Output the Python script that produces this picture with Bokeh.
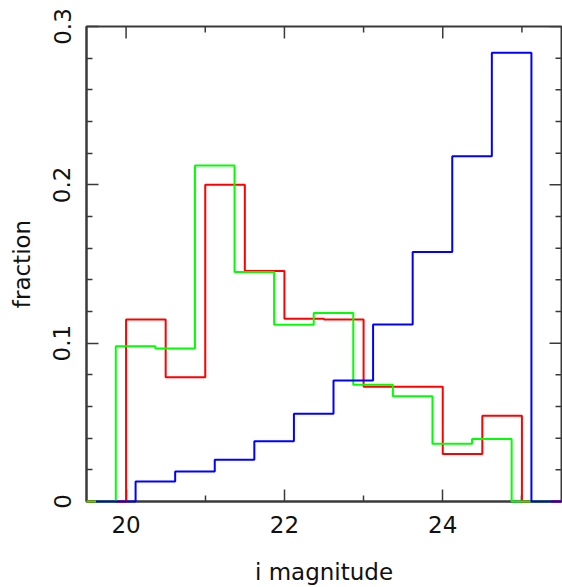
import math
from bokeh.plotting import figure
from bokeh.models import Range1d, FixedTicker
from bokeh.embed import file_html
from bokeh.resources import INLINE

# bin edges (including empty bins at both ends) and fractions
red_edges = [19.5, 20.0, 20.5, 21.0, 21.5, 22.0, 22.5, 23.0, 23.5, 24.0, 24.5, 25.0, 25.5]
red_values = [0.0, 0.115, 0.0785, 0.200, 0.1456, 0.1154, 0.115, 0.0724, 0.0724, 0.030, 0.0542, 0.0]

green_edges = [19.37, 19.87, 20.37, 20.87, 21.37, 21.87, 22.37, 22.87, 23.37, 23.87, 24.37, 24.87, 25.37]
green_values = [0.0, 0.098, 0.0966, 0.2122, 0.1449, 0.1116, 0.119, 0.0738, 0.0665, 0.0365, 0.0394, 0.0]

blue_edges = [19.62, 20.12, 20.62, 21.12, 21.62, 22.12, 22.62, 23.12, 23.62, 24.12, 24.62, 25.12, 25.62]
blue_values = [0.0, 0.0127, 0.019, 0.0264, 0.038, 0.0555, 0.0764, 0.1118, 0.1576, 0.218, 0.2835, 0.0]

x_major = [20, 22, 24]
x_minor = [19, 21, 23, 25]
y_major = [0.0, 0.1, 0.2, 0.3]
y_minor = [0.02, 0.04, 0.06, 0.08, 0.12, 0.14, 0.16, 0.18, 0.22, 0.24, 0.26, 0.28]
y_labels = {0.0: "0", 0.1: "0.1", 0.2: "0.2", 0.3: "0.3"}

X0, X1 = 19.5, 25.5
Y0, Y1 = 0.0, 0.3

FONT = "DejaVu Sans ExtraLight, DejaVu Sans"
AX = "#3a3a3a"
TXT = "#111111"

p = figure(width=562, height=587, output_backend="svg", toolbar_location=None,
           x_range=Range1d(X0, X1), y_range=Range1d(Y0, Y1),
           min_border_left=86, min_border_top=26, min_border_right=1, min_border_bottom=0,
           x_axis_label="i magnitude", y_axis_label="fraction")
p.grid.visible = False
p.outline_line_color = AX
p.outline_line_width = 2
p.background_fill_color = "white"
p.border_fill_color = "white"

# mirrored inward ticks on the top and right edges
p.ray(x=x_major, y=[Y1] * len(x_major), length=12, length_units="screen",
      angle=-math.pi / 2, line_color=AX, line_width=1.5)
p.ray(x=x_minor, y=[Y1] * len(x_minor), length=6, length_units="screen",
      angle=-math.pi / 2, line_color=AX, line_width=1.5)
p.ray(x=[X1] * len(y_major), y=y_major, length=12, length_units="screen",
      angle=math.pi, line_color=AX, line_width=1.5)
p.ray(x=[X1] * len(y_minor), y=y_minor, length=6, length_units="screen",
      angle=math.pi, line_color=AX, line_width=1.5)

for edges, vals, col in [(red_edges, red_values, "#ff0000"),
                         (green_edges, green_values, "#00ff00"),
                         (blue_edges, blue_values, "#0000ff")]:
    xs = [min(max(e, X0), X1) for e in edges]   # clip to the visible x range
    p.step(x=xs, y=vals + [0.0], mode="after", line_color=col, line_width=2,
           level="overlay")

for ax in list(p.xaxis) + list(p.yaxis):
    ax.axis_line_color = AX
    ax.axis_line_width = 2
    ax.major_tick_line_color = AX
    ax.minor_tick_line_color = AX
    ax.major_tick_line_width = 1.5
    ax.minor_tick_line_width = 1.5
    ax.major_tick_in = 12
    ax.major_tick_out = 0
    ax.minor_tick_in = 6
    ax.minor_tick_out = 0
    ax.major_label_text_font = FONT
    ax.major_label_text_color = TXT
    ax.major_label_text_font_size = "23px"
    ax.axis_label_text_font = FONT
    ax.axis_label_text_font_style = "normal"
    ax.axis_label_text_color = TXT
    ax.axis_label_text_font_size = "23px"

p.xaxis.ticker = FixedTicker(ticks=x_major, minor_ticks=x_minor)
p.yaxis.ticker = FixedTicker(ticks=y_major, minor_ticks=y_minor)
p.yaxis.major_label_overrides = y_labels
p.yaxis.major_label_orientation = "vertical"
p.xaxis.major_label_standoff = 14
p.xaxis.axis_label_standoff = 23
p.yaxis.major_label_standoff = 16
p.yaxis.axis_label_standoff = 16

open("out.html", "w").write(file_html(p, INLINE))
